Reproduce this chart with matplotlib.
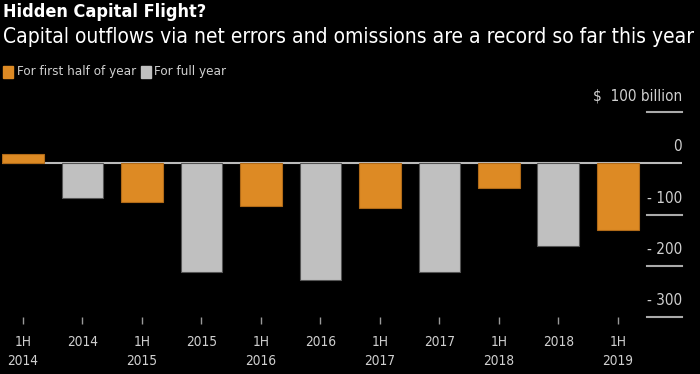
import numpy as np
import matplotlib.pyplot as plt
from matplotlib import transforms

plt.rcParams['font.family'] = ['DejaVu Sans']
plt.rcParams['font.stretch'] = 'condensed'

labels = ['1H\n2014', '2014', '1H\n2015', '2015', '1H\n2016', '2016',
          '1H\n2017', '2017', '1H\n2018', '2018', '1H\n2019']
values = [19, -68, -76, -213, -83, -228, -87, -213, -49, -161, -130]
is_half = [True, False, True, False, True, False, True, False, True, False, True]
yticks = [100, 0, -100, -200, -300]
ytick_labels = ['$  100 billion', '0', '- 100', '- 200', '- 300']

orange = '#dd8a24'
gray = '#c0c0c0'
txt = '#d0d0d0'

fig = plt.figure(figsize=(7, 3.74), dpi=100, facecolor='black')
ax = fig.add_axes([2 / 700, 57 / 374, 680 / 700, 205 / 374], facecolor='black')

x = np.arange(len(values))
colors = [orange if h else gray for h in is_half]
edges = ['#b06a18' if h else '#555555' for h in is_half]
ax.axhline(0, color='#bbbbbb', lw=1.5, zorder=1)
ax.bar(x, values, width=0.7, color=colors, edgecolor=edges, linewidth=0.8, zorder=2)

ax.set_xlim(-0.353, 11.08)
ax.set_ylim(-300, 100)

# short gridlines at right + labels above them
off = transforms.offset_copy(ax.get_yaxis_transform(), fig=fig, x=0, y=9, units='dots')
for v, lab in zip(yticks, ytick_labels):
    if v != 0:
        ax.axhline(v, xmin=1 - 35 / 680, xmax=1, color='#aaaaaa', lw=1.5, clip_on=False)
    ax.text(1, v, lab, transform=off, ha='right', va='bottom', color=txt, fontsize=11)

for s in ax.spines.values():
    s.set_visible(False)
ax.set_yticks([])
ax.set_xticks(x)
ax.set_xticklabels(labels, color=txt, fontsize=9.8, linespacing=1.45)
ax.tick_params(axis='x', length=5, width=1, color='#999999', pad=8)

fig.text(3 / 700, 1 - 12 / 374, 'Hidden Capital Flight?', color='white', fontsize=13,
         fontweight='bold', va='center', ha='left')
fig.text(3 / 700, 1 - 37 / 374,
         'Capital outflows via net errors and omissions are a record so far this year',
         color='white', fontsize=15, va='center', ha='left')

# legend
fig.patches.append(plt.Rectangle((3 / 700, 1 - 78 / 374), 10 / 700, 12 / 374,
                                 color=orange, transform=fig.transFigure))
fig.text(17 / 700, 1 - 72 / 374, 'For first half of year', color=txt, fontsize=9.6, va='center')
fig.patches.append(plt.Rectangle((141 / 700, 1 - 78 / 374), 10 / 700, 12 / 374,
                                 color=gray, transform=fig.transFigure))
fig.text(154 / 700, 1 - 72 / 374, 'For full year', color=txt, fontsize=9.6, va='center')

plt.savefig('out.png', dpi=100, facecolor='black')
